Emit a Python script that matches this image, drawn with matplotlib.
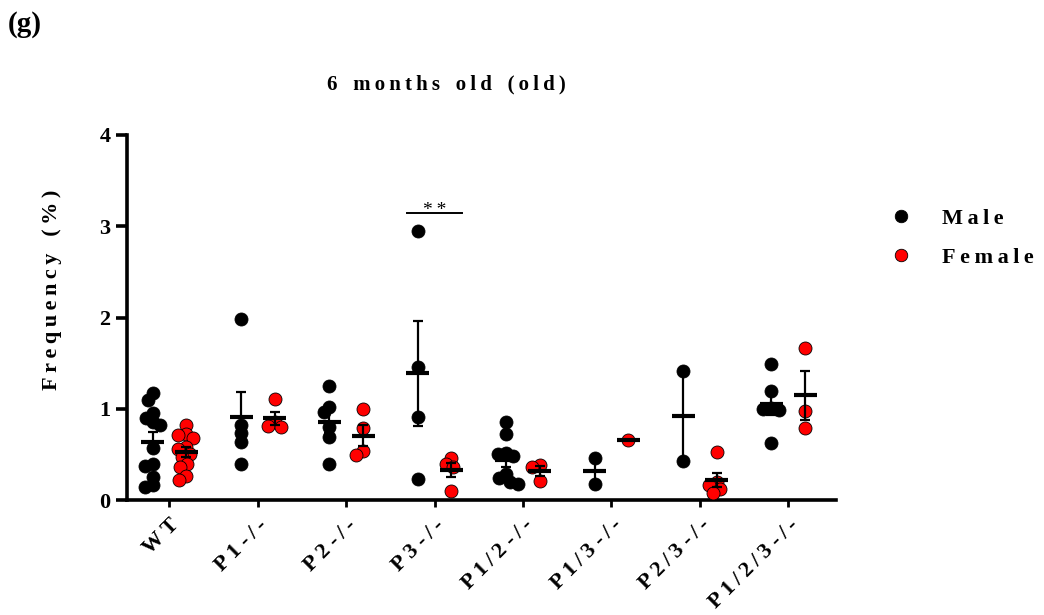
import numpy as np
import matplotlib
matplotlib.use("Agg")
import matplotlib.pyplot as plt
from matplotlib.lines import Line2D

# ---- data -------------------------------------------------------------
groups = ["W T", "P1 -/-", "P2 -/-", "P3 -/-", "P1/2 -/-", "P1/3 -/-", "P2/3 -/-", "P1/2/3 -/-"]

male_values = [
    [1.17, 1.10, 0.95, 0.90, 0.86, 0.82, 0.57, 0.40, 0.37, 0.25, 0.16, 0.14],
    [1.98, 0.82, 0.73, 0.64, 0.39],
    [1.25, 1.02, 0.96, 0.80, 0.69, 0.39],
    [2.95, 1.46, 0.91, 0.23],
    [0.86, 0.72, 0.52, 0.50, 0.48, 0.28, 0.24, 0.20, 0.18],
    [0.46, 0.17],
    [1.41, 0.43],
    [1.49, 1.20, 1.01, 1.00, 0.99, 0.62],
]

female_values = [
    [0.82, 0.72, 0.71, 0.68, 0.58, 0.56, 0.50, 0.47, 0.40, 0.36, 0.26, 0.22],
    [1.11, 0.86, 0.81, 0.80],
    [1.00, 0.79, 0.54, 0.49],
    [0.46, 0.40, 0.36, 0.10],
    [0.38, 0.36, 0.21],
    [0.66],
    [0.53, 0.20, 0.16, 0.12, 0.08],
    [1.67, 0.98, 0.79],
]

series_names = ["Male", "Female"]
title = "6 months old (old)"
ylabel = "Frequency (%)"
panel = "(g)"

sig_group = 3
sig_level = 3.15
sig_text = "**"

# ---- style --------------------------------------------------------------
plt.rcParams["font.family"] = ["Liberation Serif", "DejaVu Serif"]
plt.rcParams["font.weight"] = "bold"

THIN = "\u2009"


def spaced(s, word_gap="  "):
    """Tracked-out lettering: thin space between letters, wider between words."""
    words = s.split(" ")
    return word_gap.join(THIN.join(w) for w in words)


W, H, DPI = 1044, 615, 100
fig = plt.figure(figsize=(W / DPI, H / DPI), dpi=DPI)
ax = fig.add_axes([127 / W, 1 - 500 / H, (836 - 127) / W, (500 - 135) / H])

xmin, xmax = -0.48, 7.54
ymin, ymax = 0.0, 4.0
ax.set_xlim(xmin, xmax)
ax.set_ylim(ymin, ymax)

px_per_x = (836 - 127) / (xmax - xmin)
px_per_y = (500 - 135) / (ymax - ymin)

offset = 0.19          # horizontal shift of male / female columns
marker_d = 13.0        # marker diameter in px
marker_s = (marker_d * 72 / DPI) ** 2


def swarm(values, min_dist):
    """Horizontal offsets (px) so that markers do not pile up."""
    placed = []
    offs = np.zeros(len(values))
    for i in np.argsort(values)[::-1]:
        y = values[i] * px_per_y
        cands = [0.0]
        for (px, py) in placed:
            dy = abs(py - y)
            if dy < min_dist:
                dx = np.sqrt(min_dist ** 2 - dy ** 2)
                cands += [px + dx, px - dx]
        cands.sort(key=lambda c: (abs(c), c))
        for c in cands:
            if all((c - px) ** 2 + (y - py) ** 2 >= min_dist ** 2 - 1e-6 for px, py in placed):
                offs[i] = c
                placed.append((c, y))
                break
    return offs


def draw_column(vals, center, face):
    vals = np.asarray(vals, dtype=float)
    dx = swarm(vals, marker_d * 0.62) / px_per_x
    ax.scatter(center + dx, vals, s=marker_s, c=face, edgecolors="black",
               linewidths=0.6, zorder=3, clip_on=False)
    m = vals.mean()
    half = 11.5 / px_per_x
    ax.plot([center - half, center + half], [m, m], color="black", lw=3,
            solid_capstyle="butt", zorder=4)
    if len(vals) > 1:
        sem = vals.std(ddof=1) / np.sqrt(len(vals))
        ax.errorbar(center, m, yerr=sem, fmt="none", ecolor="black",
                    elinewidth=1.6, capsize=3.6, capthick=1.6, zorder=4)


for i in range(len(groups)):
    draw_column(male_values[i], i - offset, "black")
    draw_column(female_values[i], i + offset, "#ff0000")

# significance bar
ax.plot([sig_group - 0.31, sig_group + 0.31], [sig_level, sig_level],
        color="black", lw=1.4, zorder=4)
ax.text(sig_group, sig_level - 0.07, THIN.join(sig_text), ha="center", va="bottom",
        fontsize=14, fontweight="normal")

# ---- axes ------------------------------------------------------------------
for s in ("top", "right"):
    ax.spines[s].set_visible(False)
for s in ("left", "bottom"):
    ax.spines[s].set_linewidth(2.6)

ax.set_yticks([0, 1, 2, 3, 4])
ax.set_yticklabels(["0", "1", "2", "3", "4"], fontsize=16, fontweight="bold")
ax.tick_params(axis="y", length=8, width=2.6, pad=4)

ax.set_xticks(range(len(groups)))
ax.set_xticklabels([spaced(g, " ") for g in groups], rotation=45, ha="right",
                   rotation_mode="anchor", fontsize=16, fontweight="bold")
ax.tick_params(axis="x", length=5, width=2.0, pad=6)

ax.set_ylabel(spaced(ylabel, "   "), fontsize=16, fontweight="bold")
ax.yaxis.set_label_coords(-0.092, 0.575)

fig.text(446 / W, 1 - 84 / H, spaced(title, "   "), ha="center",
         va="center", fontsize=15, fontweight="bold")
fig.text(8 / W, 1 - 24 / H, panel, ha="left", va="center", fontsize=21,
         fontweight="bold")

handles = [
    Line2D([], [], ls="none", marker="o", markersize=9, markerfacecolor="black",
           markeredgecolor="black", markeredgewidth=0.6),
    Line2D([], [], ls="none", marker="o", markersize=9, markerfacecolor="#ff0000",
           markeredgecolor="black", markeredgewidth=0.6),
]
fig.legend(handles, [spaced(n) for n in series_names], loc="upper left",
           bbox_to_anchor=(890 / W, 1 - 208 / H), frameon=False,
           prop={"family": "Liberation Serif", "weight": "bold", "size": 16},
           handlelength=1.0, handletextpad=1.35, labelspacing=0.85,
           borderaxespad=0, borderpad=0)

fig.savefig("out.png", dpi=DPI)
